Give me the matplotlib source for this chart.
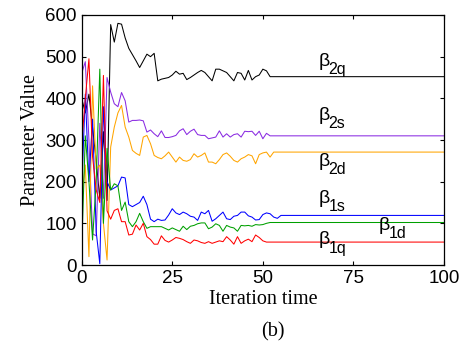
import matplotlib
matplotlib.use("Agg")
import matplotlib.pyplot as plt
import numpy as np

# ---- data ----
beta_2q = [400, 365, 410, 330, 250, 160, 320, 155, 577, 535, 580, 578, 545, 520, 505, 490,
           474, 490, 506, 500, 508, 442, 446, 448, 450, 456, 465, 458, 460, 445, 450, 456,
           462, 467, 462, 452, 442, 470, 470, 466, 462, 452, 442, 462, 460, 444, 467, 444,
           452, 456, 470, 466, 452]
beta_2s = [460, 488, 300, 75, 70, 340, 160, 450, 415, 387, 380, 414, 394, 343, 347, 347,
           348, 346, 319, 324, 315, 308, 322, 306, 306, 308, 311, 322, 327, 313, 321, 326,
           313, 311, 311, 303, 305, 307, 322, 307, 315, 307, 313, 315, 307, 321, 320, 321,
           311, 321, 303, 316, 310]
beta_2d = [160, 240, 20, 430, 230, 240, 100, 12, 283, 331, 365, 383, 331, 307, 275, 268,
           263, 307, 311, 291, 263, 258, 255, 262, 271, 259, 247, 259, 251, 249, 253, 267,
           259, 263, 269, 247, 247, 243, 253, 265, 269, 261, 251, 247, 255, 259, 265, 262,
           243, 265, 269, 271, 259, 271]
beta_1s = [180, 410, 200, 350, 80, 3, 380, 200, 180, 185, 190, 211, 209, 145, 140, 145,
           150, 165, 145, 110, 104, 110, 107, 108, 120, 135, 125, 121, 127, 123, 117, 115,
           107, 127, 123, 131, 105, 111, 119, 127, 111, 109, 117, 119, 127, 127, 118, 115,
           108, 109, 121, 125, 123, 115, 112, 119]
beta_1d = [38, 310, 200, 60, 200, 470, 100, 280, 180, 195, 190, 131, 151, 104, 92, 104,
           124, 104, 88, 92, 92, 92, 92, 88, 84, 89, 85, 81, 93, 85, 93, 95,
           99, 101, 101, 87, 91, 99, 95, 81, 95, 91, 89, 81, 95, 94, 95, 93,
           97, 96, 97, 100, 102]
beta_1q = [290, 400, 495, 260, 180, 150, 455, 130, 110, 131, 135, 104, 104, 72, 74, 96,
           84, 100, 68, 61, 50, 50, 70, 59, 55, 60, 66, 64, 61, 56, 52, 60,
           58, 54, 52, 56, 52, 55, 58, 56, 68, 60, 50, 68, 52, 58, 62, 56,
           72, 66, 58, 55, 55]

x_end = 100
series = [
    (beta_2q, "black"),
    (beta_2s, "#8a2be2"),
    (beta_2d, "#ffa500"),
    (beta_1s, "#0000ff"),
    (beta_1d, "#00a000"),
    (beta_1q, "#ff0000"),
]

labels = ["2q", "2s", "2d", "1s", "1d", "1q"]
label_x = [65.5, 65.5, 65.5, 65.5, 82.0, 65.5]
label_y = [478, 348, 238, 150, 84, 50]

x_ticks = [0, 25, 50, 75, 100]
y_ticks = [0, 100, 200, 300, 400, 500, 600]

# ---- figure ----
fig = plt.figure(figsize=(4.70, 3.48), dpi=100)
ax = fig.add_axes([0.1738, 0.2385, 0.7709, 0.7184])

for vals, col in series:
    xs = list(range(len(vals))) + [x_end]
    ys = list(vals) + [vals[-1]]
    ax.plot(xs, ys, color=col, lw=0.75)

sans = ["Liberation Sans", "DejaVu Sans"]
serif = ["Liberation Serif", "DejaVu Serif"]

for lab, lx, ly in zip(labels, label_x, label_y):
    ax.text(lx, ly, "\u03b2", fontsize=14, family=sans, va="baseline", ha="left")
    ax.annotate(lab, xy=(lx, ly), xytext=(7, -6), textcoords="offset points",
                fontsize=11.5, family=sans, va="baseline", ha="left")

ax.set_xlim(0, 100)
ax.set_ylim(0, 600)
ax.set_xticks(x_ticks)
ax.set_yticks(y_ticks)
ax.tick_params(direction="in", top=True, right=True, length=3, width=0.8,
               labelsize=13.5)
for lbl in ax.get_xticklabels() + ax.get_yticklabels():
    lbl.set_family(sans)
for sp in ax.spines.values():
    sp.set_linewidth(0.9)

ax.set_xlabel("Iteration time", fontsize=14.5, family=serif, labelpad=2)
ax.set_ylabel("Parameter Value", fontsize=14.5, family=serif, labelpad=4)
fig.text(0.581, 0.047, "(b)", fontsize=14.5, family=serif, ha="center", va="center")

fig.savefig("out.png", dpi=100)
